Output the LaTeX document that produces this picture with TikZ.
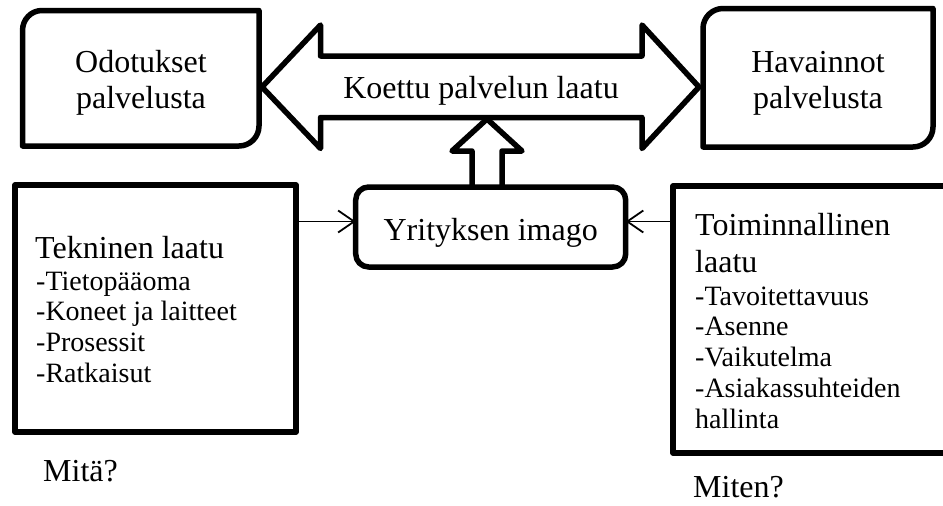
\documentclass[tikz,border=0pt]{standalone}
\usepackage{fontspec}
\setmainfont{Liberation Serif}
\usetikzlibrary{arrows.meta,calc}

\begin{document}
\begin{tikzpicture}[x=1pt,y=-1pt,
  heavy/.style={line width=5.5pt, line join=round},
  big/.style={font=\fontsize{32}{37}\selectfont, inner sep=0pt},
  small/.style={font=\fontsize{28}{31}\selectfont, inner sep=0pt},
  conn/.style={line width=1.8pt, -{Straight Barb[length=16pt,width=22pt,line width=1.8pt]}},
  frame/.style={heavy, draw, rectangle, outer sep=0pt, inner sep=0pt, anchor=north west},
]
\useasboundingbox (0,0) rectangle (943,506);
\begin{scope}
\clip (0,0) rectangle (943,506);

% upper boxes: rounded top-left and bottom-right corners only
\draw[heavy] (259,10.5) -- (42,10.5) .. controls (31,10.5) and (22.5,19.5) .. (22.5,30.5)
  -- (22.5,146) -- (239,146) .. controls (250,146) and (259,137) .. (259,126) -- cycle;
\node[big, anchor=base] (odo1) at (141,72) {Odotukset};
\node[big, anchor=base] (odo2) at (141,108) {palvelusta};

\draw[heavy] (933,8.5) -- (723,8.5) .. controls (712,8.5) and (703,17.5) .. (703,28.5)
  -- (703,147) -- (913,147) .. controls (924,147) and (933,138) .. (933,127) -- cycle;
\node[big, anchor=base] (hav1) at (818,72) {Havainnot};
\node[big, anchor=base] (hav2) at (818,108) {palvelusta};

% double-headed block arrow
\draw[heavy] (262,87) -- (320.5,25) -- (320.5,56) -- (642,56) -- (642,25) -- (699,87)
  -- (642,148.5) -- (642,117.5) -- (320.5,117.5) -- (320.5,148.5) -- cycle;
\node[big, anchor=base] (koettu) at (481,98) {Koettu palvelun laatu};

% company image
\node[heavy, draw, rounded corners=13pt, minimum width=270pt, minimum height=80pt,
  outer sep=0pt, inner sep=0pt, text height=26pt, text depth=0pt,
  font=\fontsize{32}{37}\selectfont] (imago) at (490.7,227) {Yrityksen imago};

% hollow up arrow from the image box to the block arrow
\draw[heavy] ($(imago.north)+(-18.7,0)$) -- (472,151) -- (452,151) -- (487,119)
  -- (522,151) -- (502,151) -- ($(imago.north)+(11.3,0)$);

% technical quality
\node[frame, minimum width=281pt, minimum height=247pt] (tek) at (15,185) {};
\node[big, anchor=base west] (tekh) at (35,258) {Tekninen laatu};
\node[small, anchor=base west] (tek1) at (36,290) {-Tietopääoma};
\node[small, anchor=base west] (tek2) at (36,320) {-Koneet ja laitteet};
\node[small, anchor=base west] (tek3) at (36,351) {-Prosessit};
\node[small, anchor=base west] (tek4) at (36,382) {-Ratkaisut};
\node[big, anchor=base west] (mita) at (43,481) {Mitä?};

% functional quality
\node[frame, minimum width=300pt, minimum height=267pt] (toi) at (673,186) {};
\node[big, anchor=base west] (toih1) at (695,235) {Toiminnallinen};
\node[big, anchor=base west] (toih2) at (695,272) {laatu};
\node[small, anchor=base west] (toi1) at (695,305) {-Tavoitettavuus};
\node[small, anchor=base west] (toi2) at (695,335) {-Asenne};
\node[small, anchor=base west] (toi3) at (695,366) {-Vaikutelma};
\node[small, anchor=base west] (toi4) at (695,397) {-Asiakassuhteiden};
\node[small, anchor=base west] (toi5) at (695,428) {hallinta};
\node[big, anchor=base west] (miten) at (693,497) {Miten?};

% thin connectors into the image box
\coordinate (ly) at (0,221.5);
\draw[conn] (tek.east |- ly) -- (imago.west |- ly);
\draw[conn] (toi.west |- ly) -- (imago.east |- ly);
\end{scope}
\end{tikzpicture}
\end{document}
